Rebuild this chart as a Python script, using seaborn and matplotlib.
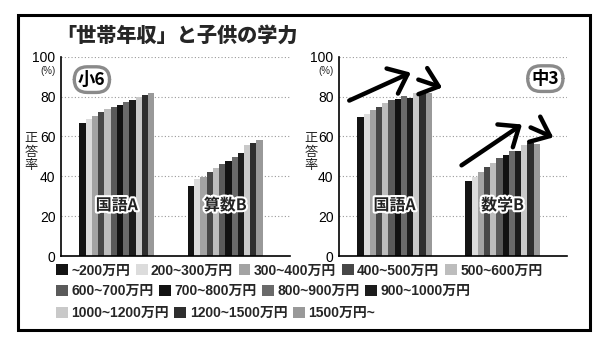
import matplotlib
matplotlib.use("Agg")
import matplotlib.pyplot as plt
import matplotlib.patheffects as pe
from matplotlib.patches import Rectangle
import seaborn as sns
import pandas as pd

# ---------------- data ----------------
income_labels = ["~200万円", "200~300万円", "300~400万円", "400~500万円", "500~600万円",
                 "600~700万円", "700~800万円", "800~900万円", "900~1000万円",
                 "1000~1200万円", "1200~1500万円", "1500万円~"]
colors = ["#141414", "#dcdcdc", "#a3a3a3", "#474747", "#bdbdbd", "#5a5a5a",
          "#121212", "#6a6a6a", "#1c1c1c", "#c9c9c9", "#2e2e2e", "#999999"]

sho6_subjects = ["国語A", "算数B"]
sho6_kokugo = [66.7, 68.9, 70.0, 72.5, 74.0, 74.8, 76.0, 77.2, 78.3, 79.6, 80.7, 81.7]
sho6_sansu = [35.2, 38.5, 39.5, 42.3, 44.3, 46.2, 47.5, 49.8, 51.5, 55.7, 56.5, 58.3]

chu3_subjects = ["国語A", "数学B"]
chu3_kokugo = [69.5, 71.2, 73.3, 74.8, 76.7, 78.2, 78.8, 80.3, 79.5, 81.7, 82.2, 81.8]
chu3_sugaku = [37.5, 39.8, 42.3, 44.5, 46.5, 49.0, 50.8, 52.8, 52.8, 55.5, 56.8, 56.0]

yticks = [0, 20, 40, 60, 80, 100]
title = "「世帯年収」と子供の学力"
ylabel = "正\n答\n率"

# ---------------- style ----------------
sns.set_theme(style="white")
plt.rcParams["font.family"] = ["Liberation Sans", "Noto Sans CJK JP", "DejaVu Sans"]

W, H = 600, 343
fig = plt.figure(figsize=(6.0, 3.43), dpi=100)


def fx(px):
    return px / W


def fy(py):
    return 1 - py / H


def make_df(subjects, a, b):
    rows = []
    for lab, v in zip(income_labels, a):
        rows.append({"subject": subjects[0], "income": lab, "value": v})
    for lab, v in zip(income_labels, b):
        rows.append({"subject": subjects[1], "income": lab, "value": v})
    return pd.DataFrame(rows)


panels = [
    dict(left=61, right=290, subjects=sho6_subjects, a=sho6_kokugo, b=sho6_sansu,
         badge="小6", badge_xy=(0.135, 0.885), ylab_x=31, pct_x=48),
    dict(left=339, right=567, subjects=chu3_subjects, a=chu3_kokugo, b=chu3_sugaku,
         badge="中3", badge_xy=(0.905, 0.89), ylab_x=311, pct_x=326),
]

axes = []
handles, labels = None, None
for i, p in enumerate(panels):
    ax = fig.add_axes([fx(p["left"]), fy(256), fx(p["right"] - p["left"]), (256 - 56.7) / H])
    axes.append(ax)
    df = make_df(p["subjects"], p["a"], p["b"])
    sns.barplot(data=df, x="subject", y="value", hue="income", hue_order=income_labels,
                palette=colors, width=0.69, errorbar=None, ax=ax, legend=(i == 0),
                saturation=1, linewidth=0)
    if i == 0:
        handles, labels = ax.get_legend_handles_labels()
        ax.get_legend().remove()
    ax.set_xlim(-0.515, 1.597)
    ax.set_ylim(0, 100)
    ax.set_yticks(yticks)
    ax.set_yticklabels([str(t) for t in yticks], fontsize=10)
    ax.tick_params(axis="y", length=0, pad=4, colors="black")
    ax.set_xticks([])
    ax.set_xlabel("")
    ax.set_ylabel("")
    for s in ["top", "right"]:
        ax.spines[s].set_visible(False)
    for s in ["left", "bottom"]:
        ax.spines[s].set_color("black")
        ax.spines[s].set_linewidth(1.2)
    ax.set_facecolor("white")
    for t in yticks[1:]:
        ax.axhline(t, color="#999999", lw=0.8, ls=(0, (1, 2)), zorder=0)
    # group labels
    for gx, name in enumerate(p["subjects"]):
        ax.text(gx, 25.5, name, ha="center", va="center", fontsize=11.5,
                fontweight="bold", color="#222222", family=["Noto Sans CJK JP"],
                path_effects=[pe.withStroke(linewidth=3, foreground="white")], zorder=5)
    # badge
    ax.text(p["badge_xy"][0], p["badge_xy"][1], p["badge"], transform=ax.transAxes,
            ha="center", va="center", fontsize=12.5, fontweight="bold", color="black",
            family=["Noto Sans CJK JP"],
            bbox=dict(boxstyle="round,pad=0.22,rounding_size=0.75", fc="white",
                      ec="#8a8a8a", lw=2.4), zorder=6)
    # y label and unit
    fig.text(fx(p["ylab_x"]), fy(152), ylabel, ha="center", va="center",
             fontsize=9.5, linespacing=1.05, family=["Noto Sans CJK JP"])
    fig.text(fx(p["pct_x"]), fy(71), "(%)", ha="center", va="center", fontsize=7)

# arrows on the right panel
axr = axes[1]
arrows = [((-0.42, 78.0), (0.15, 92.0)),
          ((0.22, 88.5), (0.44, 84.5)),
          ((0.62, 45.5), (1.18, 66.0)),
          ((1.26, 64.5), (1.47, 59.5))]
for (x0, y0), (x1, y1) in arrows:
    axr.annotate("", xy=(x1, y1), xytext=(x0, y0), xycoords="data", textcoords="data",
                 arrowprops=dict(arrowstyle="->,head_length=0.55,head_width=0.45",
                                 lw=3.2, color="black", mutation_scale=22,
                                 shrinkA=0, shrinkB=0), annotation_clip=False, zorder=7)

# title
fig.text(fx(56), fy(36), title, ha="left", va="center", fontsize=14.5, fontweight="black",
         family=["Noto Sans CJK JP"])

# legend rows
rows = [(0, 5, 270.5), (5, 9, 291), (9, 12, 313)]
for s, e, py in rows:
    leg = fig.legend(handles[s:e], labels[s:e], loc="center left",
                     bbox_to_anchor=(fx(56), fy(py)), ncol=e - s, frameon=False,
                     handlelength=0.85, handleheight=0.85, handletextpad=0.25,
                     columnspacing=0.4, borderaxespad=0, borderpad=0,
                     prop=dict(size=10, weight="bold",
                               family=["Liberation Sans", "Noto Sans CJK JP"]))
    for h in leg.legend_handles:
        h.set_linewidth(0)

# outer frame
fig.patches.append(Rectangle((fx(18), fy(330)), fx(572), (330 - 15) / H,
                             transform=fig.transFigure, fill=False, ec="black",
                             lw=2.2, zorder=10))

fig.savefig("out.png", dpi=100, facecolor="white")
